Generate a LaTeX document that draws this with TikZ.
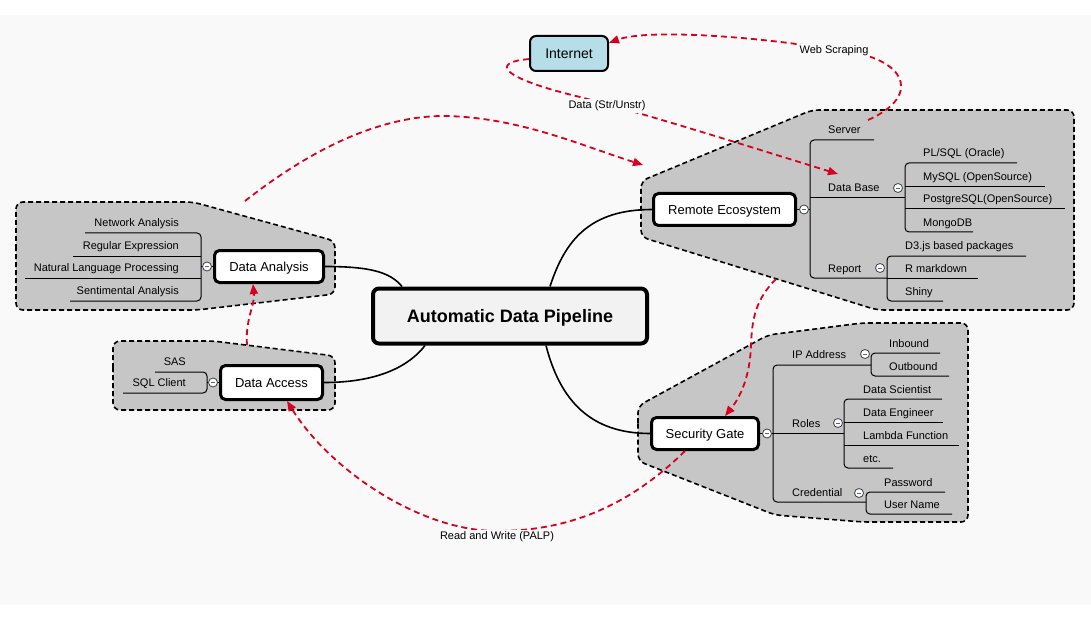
\documentclass[tikz,border=0pt]{standalone}
\usepackage{fontspec}
\setmainfont{Liberation Sans}
\usetikzlibrary{arrows.meta,calc}
\definecolor{bgc}{HTML}{F9F9F9}
\definecolor{grpc}{HTML}{C6C6C6}
\definecolor{redc}{HTML}{D7001E}
\definecolor{inetc}{HTML}{B5DEE8}
\definecolor{minusc}{HTML}{4A64A0}
\definecolor{centc}{HTML}{F2F2F2}
\tikzset{
 grp/.style={fill=grpc, draw=black, line width=1.6pt, dash pattern=on 5pt off 3pt, rounded corners=7pt},
 topic/.style={draw=black, fill=white, line width=3pt, rounded corners=5pt, font=\fontsize{13}{15}\selectfont, inner sep=0pt, text height=9.3pt, text depth=0pt},
 central/.style={draw=black, fill=centc, line width=4pt, rounded corners=6pt, font=\fontsize{18}{21}\selectfont\bfseries, inner sep=0pt, text height=12.9pt, text depth=0pt, minimum width=274pt, minimum height=55pt},
 inet/.style={draw=black, fill=inetc, line width=2pt, rounded corners=6pt, font=\fontsize{14}{16}\selectfont, inner sep=0pt, text height=10pt, text depth=0pt, minimum width=78pt, minimum height=35pt},
 lbl/.style={font=\fontsize{11}{13}\selectfont, inner sep=0pt},
 lw/.style={lbl, anchor=base west},
 le/.style={lbl, anchor=base east},
 br/.style={line width=1pt, rounded corners=4pt},
 tl/.style={line width=1pt},
 conn/.style={line width=1.6pt},
 rel/.style={draw=redc, line width=1.8pt, dash pattern=on 6pt off 4pt, -{Triangle[length=10pt,width=8pt]}},
 rlab/.style={lbl, fill=bgc, inner sep=1.5pt},
 tog/.style={circle, draw=black!75, fill=white, line width=0.8pt, minimum size=9pt, inner sep=0pt,
   path picture={\draw[minusc, line width=0.8pt] ([xshift=-2.2pt]path picture bounding box.center) -- ([xshift=2.2pt]path picture bounding box.center);}},
}
\begin{document}
\begin{tikzpicture}[x=1pt,y=-1pt]
\useasboundingbox (0,0) rectangle (1091,620);
\fill[white] (0,0) rectangle (1091,620);
\fill[bgc] (0,15) rectangle (1091,605);

% groups
\draw[grp] (641,209) -- (641,181) -- (812,110) -- (1074,110) -- (1074,310) -- (877,310) -- (641,237) -- cycle;
\draw[grp] (638,430) -- (638,406) -- (768,335) -- (862,323) -- (968,323) -- (968,522) -- (863,522) -- (775,515) -- (638,461) -- cycle;
\draw[grp] (16,256) -- (16,202) -- (193,202) -- (335,241) -- (335,294) -- (197,310) -- (16,310) -- cycle;
\draw[grp] (113,375) -- (113,341) -- (213,341) -- (335,356) -- (335,410) -- (113,410) -- cycle;

% main nodes
\node[central] (adp) at (510,316) {Automatic Data Pipeline};
\node[inet] (internet) at (569,53.5) {Internet};
\node[topic, minimum width=142pt, minimum height=32pt] (remote) at (724.5,209.5) {Remote Ecosystem};
\node[topic, minimum width=107pt, minimum height=32pt] (security) at (705,433.5) {Security Gate};
\node[topic, minimum width=109pt, minimum height=32pt] (analysis) at (269,266.5) {Data Analysis};
\node[topic, minimum width=102pt, minimum height=34pt] (access) at (271.5,382.5) {Data Access};

% connectors from the centre
\draw[conn] (remote.west) .. controls (590,209.5) and (565,240) .. (adp.north -| 550,0);
\draw[conn] (security.west) .. controls (590,433.5) and (560,400) .. (adp.south -| 546,0);
\draw[conn] (analysis.east) .. controls (370,266.5) and (390,272) .. (adp.north -| 402,0);
\draw[conn] (access.east) .. controls (380,382.5) and (410,365) .. (adp.south -| 425,0);

% Remote Ecosystem tree
\draw[tl] (remote.east) -- (810,209.5);
\draw[br] (874,140) -- (810,140) -- (810,278) -- (887,278);
\draw[tl] (810,198) -- (905,198);
\draw[br] (1017,163) -- (905,163) -- (905,232) -- (973,232);
\draw[tl] (905,187) -- (1045,187);
\draw[tl] (905,209) -- (1065,209);
\draw[br] (1026,256) -- (887,256) -- (887,301) -- (943,301);
\draw[tl] (887,278) -- (978,278);
\node[tog] (tRemote) at (804,209.5) {};
\node[tog] (tDB) at (898,188) {};
\node[tog] (tReport) at (880,268) {};
\node[lw] (server) at (828,134) {Server};
\node[lw] (db) at (828,192) {Data Base};
\node[lw] (report) at (828,272) {Report};
\node[lw] (plsql) at (923,157) {PL/SQL (Oracle)};
\node[lw] (mysql) at (923,181) {MySQL (OpenSource)};
\node[lw] (pgsql) at (923,203) {PostgreSQL(OpenSource)};
\node[lw] (mongo) at (923,226) {MongoDB};
\node[lw] (d3) at (905,250) {D3.js based packages};
\node[lw] (rmd) at (905,272) {R markdown};
\node[lw] (shiny) at (905,295) {Shiny};

% Security Gate tree
\draw[tl] (security.east) -- (844,433.5);
\draw[br] (871,365) -- (773,365) -- (773,502) -- (866,502);
\draw[br] (940,353) -- (871,353) -- (871,376) -- (949,376);
\draw[br] (942,399) -- (844,399) -- (844,468) -- (893,468);
\draw[tl] (844,422) -- (943,422);
\draw[tl] (844,445) -- (959,445);
\draw[br] (945,492) -- (866,492) -- (866,514) -- (952,514);
\node[tog] (tSec) at (767,433.5) {};
\node[tog] (tIP) at (865,354) {};
\node[tog] (tRoles) at (838,423) {};
\node[tog] (tCred) at (859,493) {};
\node[lw] (ip) at (792,358) {IP Address};
\node[lw] (roles) at (792,427) {Roles};
\node[lw] (cred) at (792,496) {Credential};
\node[lw] (inb) at (889,347) {Inbound};
\node[lw] (outb) at (889,370) {Outbound};
\node[lw] (dsci) at (863,393) {Data Scientist};
\node[lw] (deng) at (863,416) {Data Engineer};
\node[lw] (lambda) at (863,439) {Lambda Function};
\node[lw] (etc) at (863,462) {etc.};
\node[lw] (pwd) at (884,486) {Password};
\node[lw] (user) at (884,508) {User Name};

% Data Analysis tree
\draw[tl] (analysis.west) -- (201,266.5);
\draw[br] (85,233) -- (201,233) -- (201,301) -- (70,301);
\draw[tl] (73,256) -- (201,256);
\draw[tl] (25,278) -- (201,278);
\node[tog] (tAna) at (207,266.5) {};
\node[le] (netan) at (179,226.5) {Network Analysis};
\node[le] (regex) at (179,249.5) {Regular Expression};
\node[le] (nlp) at (179,271.5) {Natural Language Processing};
\node[le] (senti) at (179,294.5) {Sentimental Analysis};

% Data Access tree
\draw[tl] (access.west) -- (207,382.5);
\draw[br] (155,372) -- (207,372) -- (207,393) -- (123,393);
\node[tog] (tAcc) at (213,382.5) {};
\node[le] (sas) at (186,365.5) {SAS};
\node[le] (sql) at (186,386.5) {SQL Client};

% relationship end points
\coordinate (wsS) at (868,120);
\coordinate (dbT) at (838,174);
\coordinate (daS) at (245,201);
\coordinate (reT) at (643,165);
\coordinate (reB) at (776,279);
\coordinate (sgT) at (725,416);
\coordinate (dacT) at (247,345);
\coordinate (daB) at (253,284);
\coordinate (sgB) at (685,451);
\coordinate (dacB) at (287,401);

% relationships
\draw[rel] (wsS) .. controls (925,95) and (905,55) .. (834,50) .. controls (770,38) and (650,28) .. (internet.15);
\draw[rel] (internet.188) .. controls (490,62) and (500,78) .. (580,97) .. controls (650,115) and (760,150) .. (dbT);
\draw[rel] (daS) .. controls (310,150) and (380,115) .. (447,116) .. controls (520,118) and (580,145) .. (reT);
\draw[rel] (reB) .. controls (755,300) and (752,320) .. (751,345) .. controls (750,380) and (738,400) .. (sgT);
\draw[rel] (dacT) .. controls (245,320) and (255,305) .. (daB);
\draw[rel] (sgB) .. controls (630,505) and (570,531) .. (497,531) .. controls (420,531) and (330,470) .. (dacB);

\node[rlab] (lWeb) at (834,51) {Web Scraping};
\node[rlab] (lData) at (607,106) {Data (Str/Unstr)};
\node[rlab] (lRW) at (497,537) {Read and Write (PALP)};
\end{tikzpicture}
\end{document}
